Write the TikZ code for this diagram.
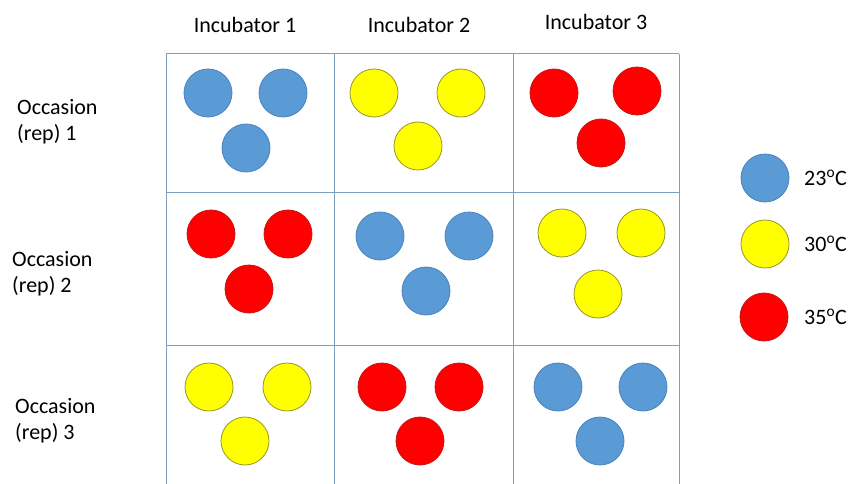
\documentclass[tikz,border=0pt]{standalone}
\usepackage{fontspec}
\setmainfont{Carlito}
\usepackage{tikz}

\definecolor{cblue}{RGB}{91,155,213}
\definecolor{cblueline}{RGB}{75,130,190}
\definecolor{cyellow}{RGB}{255,255,0}
\definecolor{cyellowline}{RGB}{150,150,40}
\definecolor{cred}{RGB}{255,0,0}
\definecolor{credline}{RGB}{200,20,20}
\definecolor{gridline}{RGB}{125,160,190}

\tikzset{
    dot/.style={circle, minimum size=48pt, inner sep=0pt, line width=0.8pt},
    bluedot/.style={dot, fill=cblue, draw=cblueline},
    yellowdot/.style={dot, fill=cyellow, draw=cyellowline},
    reddot/.style={dot, fill=cred, draw=credline},
    label/.style={font=\fontsize{22}{26}\selectfont, inner sep=0pt}
}

\begin{document}
\begin{tikzpicture}[x=1pt, y=-1pt]
    \useasboundingbox (0,0) rectangle (854,484);

    % Grid
    \draw[gridline, line width=1pt] (166,54) -- (679,54);
    \draw[gridline, line width=1pt] (166,192) -- (679,192);
    \draw[gridline, line width=1pt] (166,345) -- (679,345);
    \draw[gridline, line width=1pt] (166,54) -- (166,484);
    \draw[gridline, line width=1pt] (334,54) -- (334,484);
    \draw[gridline, line width=1pt] (513,54) -- (513,484);
    \draw[gridline, line width=1pt] (679,54) -- (679,484);

    % Column headings
    \node[label] (inc1) at (245,25) {Incubator 1};
    \node[label] (inc2) at (419,25) {Incubator 2};
    \node[label] (inc3) at (596,22) {Incubator 3};

    % Row headings
    \node[label, anchor=west, align=left] (occ1) at (17,122) {Occasion\\(rep) 1};
    \node[label, anchor=west, align=left] (occ2) at (12,274) {Occasion\\(rep) 2};
    \node[label, anchor=west, align=left] (occ3) at (15,421) {Occasion\\(rep) 3};

    % Occasion 1
    \node[bluedot] (a11) at (208,93) {};
    \node[bluedot] (a12) at (283,93) {};
    \node[bluedot] (a13) at (246,148) {};
    \node[yellowdot] (a21) at (374,93) {};
    \node[yellowdot] (a22) at (461,93) {};
    \node[yellowdot] (a23) at (418,146) {};
    \node[reddot] (a31) at (554,93) {};
    \node[reddot] (a32) at (637,91) {};
    \node[reddot] (a33) at (601,143) {};

    % Occasion 2
    \node[reddot] (b11) at (211,234) {};
    \node[reddot] (b12) at (288,234) {};
    \node[reddot] (b13) at (249,289) {};
    \node[bluedot] (b21) at (380,236) {};
    \node[bluedot] (b22) at (469,236) {};
    \node[bluedot] (b23) at (426,291) {};
    \node[yellowdot] (b31) at (562,233) {};
    \node[yellowdot] (b32) at (641,233) {};
    \node[yellowdot] (b33) at (598,294) {};

    % Occasion 3
    \node[yellowdot] (c11) at (209,387) {};
    \node[yellowdot] (c12) at (287,387) {};
    \node[yellowdot] (c13) at (245,441) {};
    \node[reddot] (c21) at (382,387) {};
    \node[reddot] (c22) at (459,387) {};
    \node[reddot] (c23) at (420,441) {};
    \node[bluedot] (c31) at (558,387) {};
    \node[bluedot] (c32) at (643,387) {};
    \node[bluedot] (c33) at (600,441) {};

    % Legend
    \node[bluedot] (key1) at (765,178) {};
    \node[yellowdot] (key2) at (765,244) {};
    \node[reddot] (key3) at (764,317) {};
    \node[label, anchor=west] (t1) at (804,178) {23\textsuperscript{o}C};
    \node[label, anchor=west] (t2) at (804,244) {30\textsuperscript{o}C};
    \node[label, anchor=west] (t3) at (804,317) {35\textsuperscript{o}C};
\end{tikzpicture}
\end{document}
